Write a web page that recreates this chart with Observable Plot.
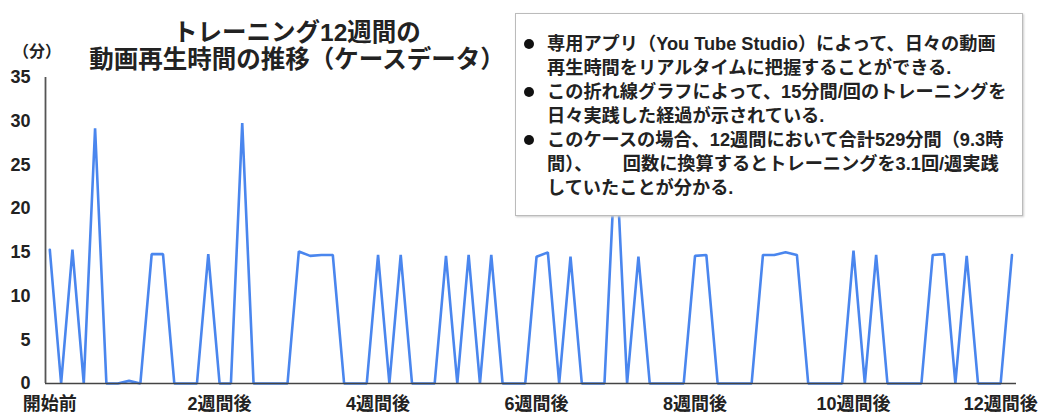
<!DOCTYPE html>
<html><head><meta charset="utf-8">
<script src="https://cdn.jsdelivr.net/npm/d3@7"></script>
<script src="https://cdn.jsdelivr.net/npm/@observablehq/plot@0.6"></script>
<style>
body{margin:0;background:#fff;}
#wrap{position:relative;width:1039px;height:418px;overflow:hidden;font-family:"Liberation Sans","Noto Sans CJK JP",sans-serif;font-weight:bold;color:#222;}
#title{position:absolute;left:47px;top:19px;width:500px;text-align:center;font-size:24.5px;line-height:27px;white-space:nowrap;}
#unit{position:absolute;left:13px;top:38px;font-size:16px;}
#note{position:absolute;left:515px;top:13px;width:508px;height:203px;box-sizing:border-box;border:1.5px solid #bbb;box-shadow:1px 1px 2px #ccc;background:#fff;font-size:18.2px;line-height:24px;padding:18px 0 0 31px;white-space:nowrap;}
#note .b{position:relative;}
#note .b::before{content:"";position:absolute;left:-23px;top:7px;width:10px;height:10px;border-radius:50%;background:#111;}
</style></head>
<body>
<div id="wrap">
<div id="chart"></div>
<div id="title">トレーニング12週間の<br>動画再生時間の推移（ケースデータ）</div>
<div id="unit">（分）</div>
<div id="note"></div>
</div>
<script>
// daily viewing minutes, day 0 .. day 85
const minutes = [15.3,0,15.3,0,29.2,0,0,0.3,0,14.8,14.8,0,0,0,14.8,0,0,29.8,0,0,0,0,15.1,14.6,14.7,14.7,0,0,0,14.7,0,14.7,0,0,0,14.6,0,14.7,0,14.7,0,0,0,14.5,15.0,0,14.5,0,0,0,27,0,14.5,0,0,0,0,14.6,14.7,0,0,0,0,14.7,14.7,15.0,14.7,0,0,0,0,15.2,0,14.7,0,0,0,0,14.7,14.8,0,14.6,0,0,0,14.7];
const tickDays = [0, 15, 29, 43, 57, 71, 84];
const tickLabels = ["開始前","2週間後","4週間後","6週間後","8週間後","10週間後","12週間後"];
const yTicks = [0,5,10,15,20,25,30,35];
const noteLines = [
  ["専用アプリ（You Tube Studio）によって、日々の動画","再生時間をリアルタイムに把握することができる."],
  ["この折れ線グラフによって、15分間/回のトレーニングを","日々実践した経過が示されている."],
  ["このケースの場合、12週間において合計529分間（9.3時","間）、　回数に換算するとトレーニングを3.1回/週実践","していたことが分かる."]
];

const data = minutes.map((v, i) => ({day: i, v}));
const labelOf = new Map(tickDays.map((d, i) => [d, tickLabels[i]]));

const chart = Plot.plot({
  width: 1039, height: 418,
  marginLeft: 45, marginRight: 23, marginTop: 77, marginBottom: 35,
  style: {fontFamily: '"Liberation Sans","Noto Sans CJK JP",sans-serif', fontSize: "18px", fontWeight: "bold", color: "#222", background: "#fff"},
  x: {domain: [-0.38, 85.4]},
  y: {domain: [0, 35]},
  marks: [
    Plot.axisY(yTicks, {tickSize: 0, tickPadding: 15, label: null}),
    Plot.axisX(tickDays, {tickSize: 0, tickPadding: 14, label: null, tickFormat: d => labelOf.get(d)}),
    Plot.line(data, {x: "day", y: "v", stroke: "#4a86ee", strokeWidth: 2.6, strokeLinejoin: "miter"}),
    Plot.ruleY([0], {stroke: "#444", strokeWidth: 1.6}),
    Plot.ruleX([-0.38], {y1: 0, y2: 35, stroke: "#555", strokeWidth: 1.8})
  ]
});
document.getElementById("chart").appendChild(chart);

const note = document.getElementById("note");
noteLines.forEach(lines => {
  const d = document.createElement("div");
  d.className = "b";
  d.innerHTML = lines.join("<br>").replace("、　回数", "、&nbsp;&nbsp;&nbsp;&nbsp;&nbsp;&nbsp;回数");
  note.appendChild(d);
});
</script>
</body></html>
